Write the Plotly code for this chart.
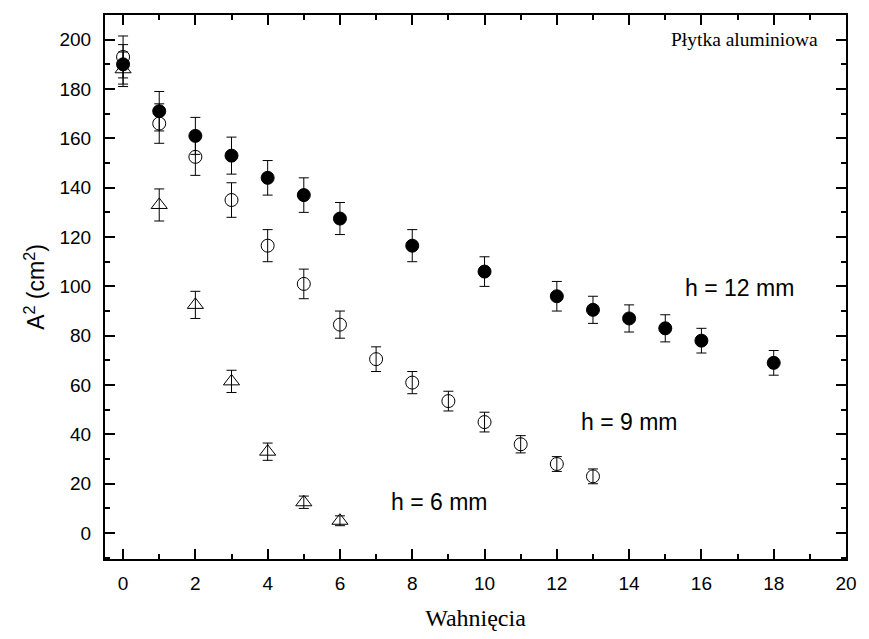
import plotly.graph_objects as go

# h = 12 mm (filled circles)
x12 = [0, 1, 2, 3, 4, 5, 6, 8, 10, 12, 13, 14, 15, 16, 18]
y12 = [190, 171, 161, 153, 144, 137, 127.5, 116.5, 106, 96, 90.5, 87, 83, 78, 69]
e12 = [8, 8, 7.5, 7.5, 7, 7, 6.5, 6.5, 6, 6, 5.5, 5.5, 5.5, 5, 5]

# h = 9 mm (open circles)
x9 = [0, 1, 2, 3, 4, 5, 6, 7, 8, 9, 10, 11, 12, 13]
y9 = [193, 166, 152.5, 135, 116.5, 101, 84.5, 70.5, 61, 53.5, 45, 36, 28, 23]
e9 = [8.5, 8, 7.5, 7, 6.5, 6, 5.5, 5, 4.5, 4, 4, 3.5, 3, 3]

# h = 6 mm (open triangles)
x6 = [0, 1, 2, 3, 4, 5, 6]
y6 = [188, 133, 92.5, 61.5, 33, 12.5, 5]
e6 = [7, 6.5, 5.5, 4.5, 3.5, 2.5, 2]

xticks = list(range(0, 21, 2))
yticks = list(range(0, 201, 20))

fig = go.Figure()

def add(x, y, e, symbol, color, size):
    fig.add_trace(go.Scatter(
        x=x, y=y, mode="markers",
        marker=dict(symbol=symbol, size=size, color=color,
                    line=dict(color="black", width=1)),
        error_y=dict(type="data", array=e, visible=True, color="black",
                     thickness=1, width=5),
        showlegend=False, cliponaxis=False))

add(x6, y6, e6, "triangle-up-open", "black", 14)
add(x9, y9, e9, "circle-open", "black", 13)
add(x12, y12, e12, "circle", "black", 13)

axis_common = dict(
    showline=True, linecolor="black", linewidth=2, mirror="allticks",
    ticks="inside", ticklen=10, tickwidth=1.5, tickcolor="black",
    showgrid=False, zeroline=False,
    tickfont=dict(family="Liberation Sans, Arial, sans-serif", size=19, color="black"),
)

fig.update_xaxes(
    range=[-0.5, 20], tickvals=xticks, ticklabelstandoff=6,
    minor=dict(ticks="inside", ticklen=5, tickwidth=1.5, tickcolor="black", dtick=1, tick0=0),
    title=dict(text="Wahnięcia",
               font=dict(family="Liberation Serif, Times New Roman, serif", size=24, color="black"),
               standoff=16),
    **axis_common)
fig.update_yaxes(
    range=[-10.5, 210], tickvals=yticks, ticklabelstandoff=8,
    minor=dict(ticks="inside", ticklen=5, tickwidth=1.5, tickcolor="black", dtick=10, tick0=0),
    title=dict(text="A<sup>2</sup> (cm<sup>2</sup>)",
               font=dict(family="Liberation Sans, Arial, sans-serif", size=23, color="black"),
               standoff=8),
    **axis_common)

ann_font = dict(family="Liberation Sans, Arial, sans-serif", size=23, color="black")
fig.add_annotation(x=17.05, y=99.5, text="h = 12 mm", showarrow=False, font=ann_font)
fig.add_annotation(x=14.0, y=45, text="h = 9 mm", showarrow=False, font=ann_font)
fig.add_annotation(x=8.75, y=12.5, text="h = 6 mm", showarrow=False, font=ann_font)
fig.add_annotation(x=17.2, y=200, text="Płytka aluminiowa", showarrow=False,
                   font=dict(family="Liberation Serif, Times New Roman, serif", size=19.5, color="black"))

fig.update_layout(
    width=869, height=639,
    margin=dict(l=105, r=19, t=15, b=77),
    plot_bgcolor="white", paper_bgcolor="white",
)

fig.write_html("out.html")
